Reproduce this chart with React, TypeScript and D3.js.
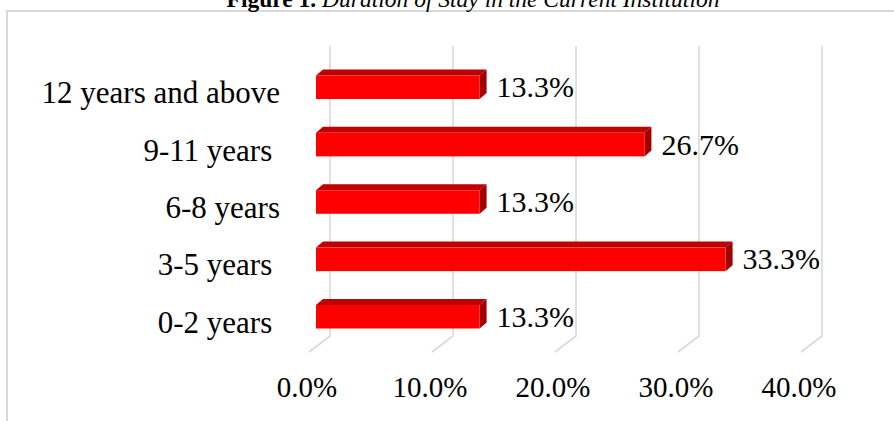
import React from "react";
import * as d3 from "d3";

// Duration of stay, listed top to bottom as drawn
const categories = ["12 years and above", "9-11 years ", "6-8 years", "3-5 years ", "0-2 years "];
const values = [13.3, 26.7, 13.3, 33.3, 13.3];
const tickValues = [0, 10, 20, 30, 40];

const W = 894;
const H = 421;
const FONT = "'Liberation Serif', 'Times New Roman', serif";

// 3D depth vector of the plot floor (front -> back wall)
const DEPTH_X = 21;
const DEPTH_Y = -16;
// bars sit between 1/3 and 2/3 of the depth
const BAR_DX = 7;
const BAR_DY = -6;

export default function App() {
  // value scale along the bars' front face
  const x = d3.scaleLinear().domain([0, 40]).range([316, 808]);
  const y = d3
    .scaleBand<string>()
    .domain(categories)
    .range([75.5, 328.5])
    .paddingInner(0.59)
    .paddingOuter(0);

  const floorFrontY = 352;
  const wallTop = 46;
  const frontX = (v: number) => x(v) - BAR_DX; // floor front edge
  const backX = (v: number) => frontX(v) + DEPTH_X;
  const fmt = (v: number) => `${v.toFixed(1)}%`;

  return (
    <svg
      width={W}
      height={H}
      style={{ position: "absolute", left: 0, top: 0, display: "block", background: "#fff" }}
    >
      {/* chart frame */}
      <rect x={7} y={11} width={W + 20} height={H + 20} fill="#fff" stroke="#d9d9d9" strokeWidth={2} />

      {/* title */}
      <text x={473} y={6.5} textAnchor="middle" fontFamily={FONT} fontSize={23.5} fill="#000">
        <tspan fontWeight="bold">Figure 1.</tspan>
        <tspan fontStyle="italic"> Duration of Stay in the Current Institution</tspan>
      </text>

      {/* back-wall gridlines with floor diagonals */}
      {tickValues.map((t) => (
        <polyline
          key={`g${t}`}
          points={`${backX(t)},${wallTop} ${backX(t)},${floorFrontY + DEPTH_Y} ${frontX(t)},${floorFrontY}`}
          fill="none"
          stroke="#d9d9d9"
          strokeWidth={1.6}
        />
      ))}

      {/* 3D bars */}
      {categories.map((c, i) => {
        const y0 = y(c)!;
        const h = y.bandwidth();
        const x0 = x(0);
        const x1 = x(values[i]);
        return (
          <g key={`b${i}`}>
            <polygon
              points={`${x0},${y0} ${x0 + BAR_DX},${y0 + BAR_DY} ${x1 + BAR_DX},${y0 + BAR_DY} ${x1},${y0}`}
              fill="#c00000"
            />
            <polygon
              points={`${x1},${y0} ${x1 + BAR_DX},${y0 + BAR_DY} ${x1 + BAR_DX},${y0 + h + BAR_DY} ${x1},${y0 + h}`}
              fill="#a00000"
            />
            <rect x={x0} y={y0} width={x1 - x0} height={h} fill="#ff0000" />
          </g>
        );
      })}

      {/* value labels */}
      {categories.map((c, i) => (
        <text
          key={`v${i}`}
          x={x(values[i]) + 17}
          y={y(c)! + y.bandwidth() / 2 + 10}
          fontFamily={FONT}
          fontSize={30}
          fill="#000"
        >
          {fmt(values[i])}
        </text>
      ))}

      {/* category labels */}
      {categories.map((c) => (
        <text
          key={`c${c}`}
          x={280}
          y={y(c)! + y.bandwidth() / 2 + 16}
          textAnchor="end"
          fontFamily={FONT}
          fontSize={31}
          fill="#000"
          style={{ whiteSpace: "pre" }}
        >
          {c}
        </text>
      ))}

      {/* value axis tick labels */}
      {tickValues.map((t) => (
        <text
          key={`t${t}`}
          x={frontX(t) - 2}
          y={397}
          textAnchor="middle"
          fontFamily={FONT}
          fontSize={29}
          fill="#000"
        >
          {fmt(t)}
        </text>
      ))}
    </svg>
  );
}
